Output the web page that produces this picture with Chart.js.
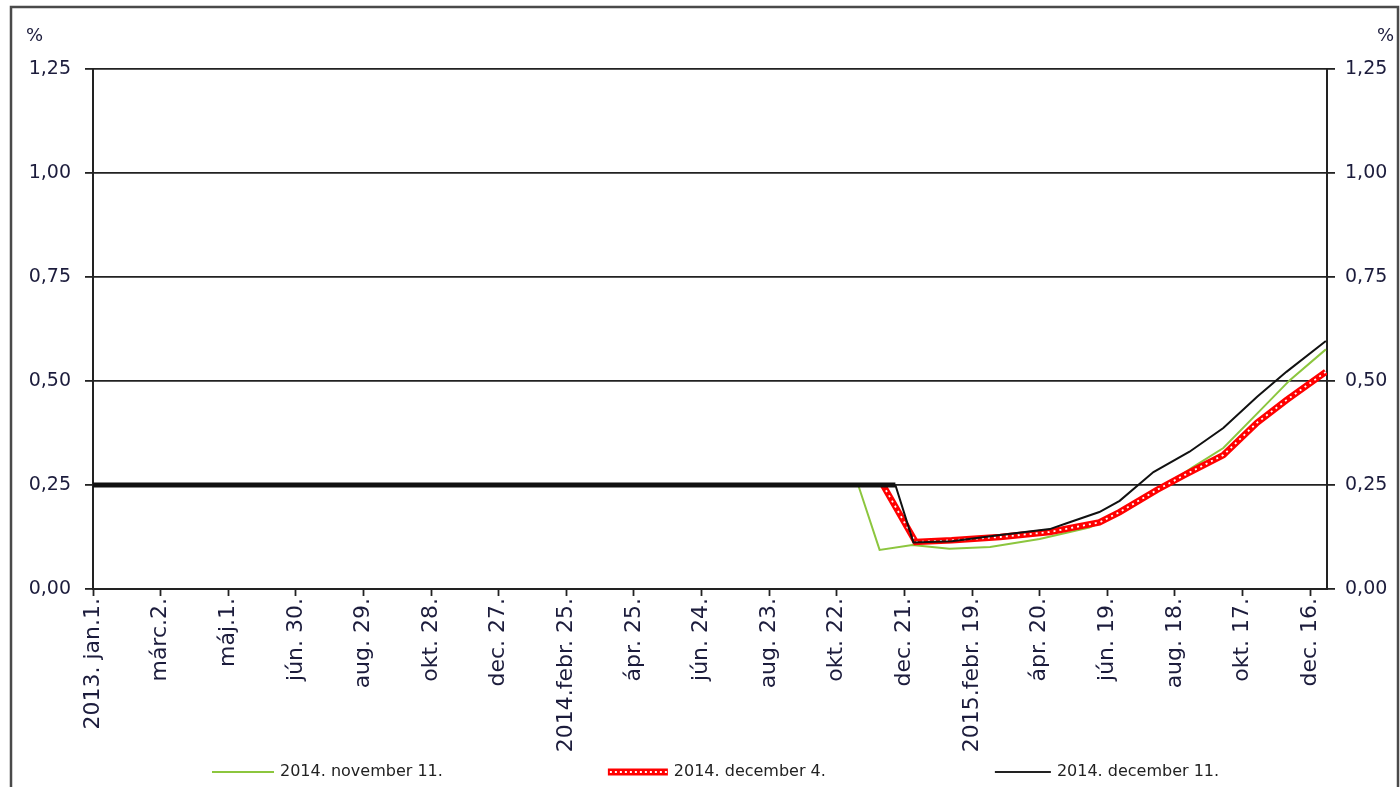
<!DOCTYPE html>
<html>
<head>
<meta charset="utf-8">
<title>Forward</title>
<script src="https://cdn.jsdelivr.net/npm/chart.js@4.4.1/dist/chart.umd.min.js"></script>
<style>
	html, body { margin: 0; padding: 0; background: #fff; }
	canvas { display: block; }
</style>
</head>
<body>
<canvas id="chart" width="1400" height="787"></canvas>
<script>
// x values are days counted from 2013. jan. 1., one tick every 60 days
const xTickLabels = ['2013. jan.1.', 'márc.2.', 'máj.1.', 'jún. 30.', 'aug. 29.', 'okt. 28.', 'dec. 27.',
	'2014.febr. 25.', 'ápr. 25.', 'jún. 24.', 'aug. 23.', 'okt. 22.', 'dec. 21.',
	'2015.febr. 19.', 'ápr. 20.', 'jún. 19.', 'aug. 18.', 'okt. 17.', 'dec. 16.'];

const seriesLabels = ['2014. november 11.', '2014. december 4.', '2014. december 11.'];

const novDays = [679, 698, 727, 760, 796, 840, 884, 911, 944, 976, 1003, 1036, 1062, 1094];
const novValues = [0.25, 0.094, 0.106, 0.097, 0.101, 0.12, 0.148, 0.18, 0.235, 0.293, 0.339, 0.43, 0.502, 0.576];

const dec4Days = [701, 730, 762, 805, 849, 893, 911, 944, 970, 1003, 1033, 1059, 1094];
const dec4Values = [0.25, 0.113, 0.117, 0.125, 0.137, 0.16, 0.185, 0.238, 0.276, 0.322, 0.4, 0.454, 0.522];

const dec11Days = [0, 712, 728, 762, 805, 849, 864, 893, 911, 941, 973, 1003, 1033, 1059, 1094];
const dec11Values = [0.25, 0.25, 0.112, 0.115, 0.13, 0.144, 0.158, 0.185, 0.212, 0.281, 0.33, 0.387, 0.462, 0.522, 0.596];

const tickColor = '#1c1c3c',
	gridColor = '#222',
	green = '#8cc63e',
	red = '#ff0000';

const points = (days, values) => days.map((d, i) => ({ x: d, y: values[i] }));
const comma = v => v.toFixed(2).replace('.', ',');

// legend samples: blank on the left, line sample on the right
const sample = draw => {
	const cv = document.createElement('canvas');
	cv.width = 227;
	cv.height = 10;
	draw(cv.getContext('2d'));
	return cv;
};
const samples = [
	sample(c => { c.fillStyle = green; c.fillRect(163, 4, 62, 2); }),
	sample(c => {
		c.fillStyle = red;
		c.fillRect(165, 1.5, 60, 7);
		c.fillStyle = '#fff';
		for (let x = 167; x < 223; x += 5) c.fillRect(x, 4, 2, 2);
	}),
	sample(c => { c.fillStyle = '#222'; c.fillRect(169, 4, 56, 2); })
];

const frame = {
	id: 'frame',
	afterLayout(chart) {
		// room for the left tick labels, which sit outside the padded box
		chart.scales.y.left = 0;
	},
	beforeDraw(chart) {
		const c = chart.ctx;
		c.save();
		c.fillStyle = '#fff';
		c.fillRect(0, 0, chart.width, chart.height);
		c.strokeStyle = '#4a4a4a';
		c.lineWidth = 2.5;
		c.beginPath();
		c.moveTo(11, chart.height);
		c.lineTo(11, 7);
		c.lineTo(1398, 7);
		c.lineTo(1398, chart.height);
		c.stroke();
		c.restore();
	},
	afterDraw(chart) {
		const c = chart.ctx,
			{ left, right } = chart.chartArea;
		c.save();
		c.font = '18px "DejaVu Sans"';
		c.fillStyle = tickColor;
		c.textBaseline = 'middle';
		c.textAlign = 'right';
		c.fillText('%', left - 50, 36);
		c.textAlign = 'left';
		c.fillText('%', right + 50, 36);
		c.restore();
	}
};

const yScale = (position, onArea) => ({
	type: 'linear',
	position,
	min: 0,
	max: 1.25,
	grid: {
		color: gridColor,
		lineWidth: 1.8,
		drawOnChartArea: onArea,
		tickLength: 8,
		tickColor: gridColor,
		tickWidth: 1.8
	},
	border: { color: gridColor, width: 2 },
	ticks: {
		stepSize: 0.25,
		padding: position == 'left' ? 14 : 10,
		color: tickColor,
		font: { family: 'DejaVu Sans', size: 19 },
		callback: v => comma(v)
	},
	afterFit: s => { s.width = position == 'left' ? 44 : 73; }
});

new Chart(document.getElementById('chart'), {
	type: 'line',
	data: {
		datasets: [{
			label: seriesLabels[0],
			data: points(novDays, novValues),
			borderColor: green,
			borderWidth: 2,
			order: 4
		}, {
			label: seriesLabels[1],
			data: points(dec4Days, dec4Values),
			borderColor: red,
			borderWidth: 6.5,
			order: 3
		}, {
			label: 'dots',
			data: points(dec4Days, dec4Values),
			borderColor: '#fff',
			borderWidth: 1.8,
			borderDash: [2, 4],
			order: 2
		}, {
			label: seriesLabels[2],
			data: points(dec11Days, dec11Values),
			borderColor: '#111',
			borderWidth: 2,
			segment: {
				borderWidth: c => c.p0DataIndex === 0 ? 5 : 2
			},
			order: 1
		}]
	},
	options: {
		responsive: false,
		animation: false,
		events: [],
		parsing: false,
		elements: {
			point: { radius: 0 },
			line: { tension: 0, fill: false }
		},
		layout: { padding: { top: 69, left: 49, right: 0, bottom: -3 } },
		scales: {
			x: {
				type: 'linear',
				position: 'bottom',
				min: 0,
				max: 1095,
				grid: {
					drawOnChartArea: false,
					tickLength: 7,
					tickColor: gridColor,
					tickWidth: 1.8
				},
				border: { color: gridColor, width: 2 },
				ticks: {
					stepSize: 60,
					includeBounds: false,
					autoSkip: false,
					minRotation: 90,
					maxRotation: 90,
					padding: 2,
					color: tickColor,
					font: { family: 'DejaVu Sans', size: 22 },
					callback: v => xTickLabels[Math.round(v / 60)]
				},
				afterFit: s => { s.height = 171; }
			},
			y: yScale('left', true),
			y2: yScale('right', false)
		},
		plugins: {
			tooltip: { enabled: false },
			legend: {
				position: 'bottom',
				align: 'start',
				labels: {
					usePointStyle: true,
					pointStyleWidth: 219,
					padding: 4,
					color: '#222',
					font: { family: 'DejaVu Sans', size: 16 },
					generateLabels: () => seriesLabels.map((text, i) => ({
						text,
						pointStyle: samples[i],
						fontColor: '#222',
						hidden: false,
						datasetIndex: i == 0 ? 0 : i + 1
					}))
				}
			}
		}
	},
	plugins: [frame]
});
</script>
</body>
</html>
